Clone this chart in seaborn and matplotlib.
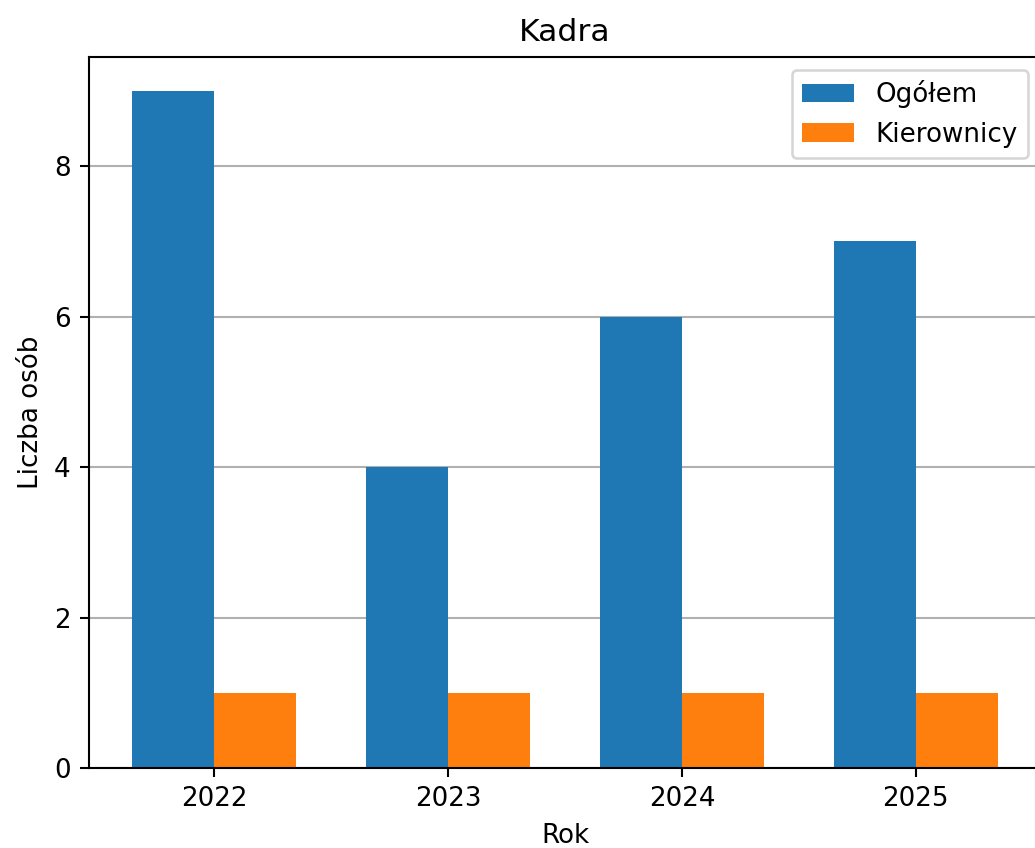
import matplotlib
matplotlib.use("Agg")
import matplotlib.pyplot as plt
import pandas as pd
import seaborn as sns

# Staff numbers per year
years = ["2022", "2023", "2024", "2025"]
ogolem = [9, 4, 6, 7]
kierownicy = [1, 1, 1, 1]
series_names = ["Ogółem", "Kierownicy"]

df = pd.DataFrame({
    "Rok": years * 2,
    "Liczba": ogolem + kierownicy,
    "Grupa": [series_names[0]] * len(years) + [series_names[1]] * len(years),
})

dpi = 188
fig = plt.figure(figsize=(1035 / dpi, 848 / dpi), dpi=dpi)
ax = fig.add_axes([0.086, 0.0943, 0.9198, 0.8385])

sns.barplot(
    data=df, x="Rok", y="Liczba", hue="Grupa", hue_order=series_names,
    palette=["#1f77b4", "#ff7f0e"], saturation=1, width=0.7,
    errorbar=None, linewidth=0, ax=ax,
)

ax.set_xlim(-0.535, 3.535)
ax.set_ylim(0, 9.45)
ax.set_yticks([0, 2, 4, 6, 8])
ax.yaxis.grid(True, color="#b0b0b0", linewidth=0.8)
ax.xaxis.grid(False)
ax.set_axisbelow(True)

ax.set_title("Kadra")
ax.set_xlabel("Rok")
ax.set_ylabel("Liczba osób")
sns.move_legend(ax, "upper right", title=None)

fig.savefig("out.png", dpi=dpi)
